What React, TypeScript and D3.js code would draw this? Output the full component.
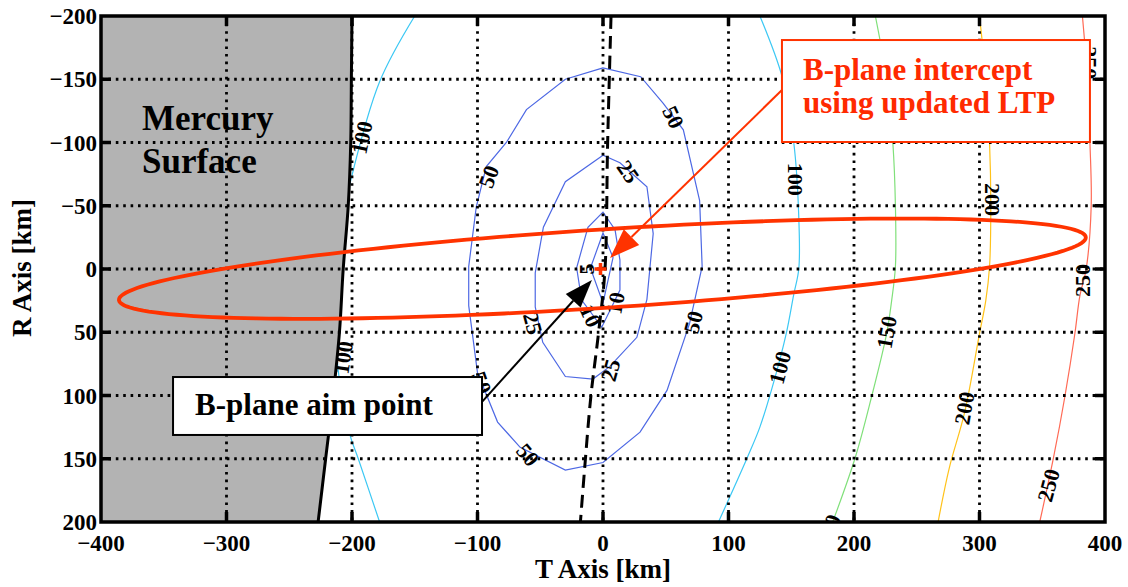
import React from "react";
import * as d3 from "d3";

// ---- axis data ----
const xTickValues = [-400, -300, -200, -100, 0, 100, 200, 300, 400];
const yTickValues = [-200, -150, -100, -50, 0, 50, 100, 150, 200];
const xGrid = [-300, -200, -100, 0, 100, 200, 300];
const yGrid = [-150, -100, -50, 0, 50, 100, 150];

// ---- contour data (T km, R km) ----
const contour5: [number, number][] = [[0, -28.5], [-10, -0.8], [0, 27], [8, -9]];
const contour10: [number, number][] = [[0, -45], [-12, -33], [-21, -1], [-17, 24.5], [-1, 46], [13.5, 16.6], [13.5, -7], [9.6, -31]];
const contour25: [number, number][] = [[0, -90], [-30, -69], [-47.5, -33], [-54, 3], [-54, 30], [-48, 58], [-30, 85], [-8, 87], [5.5, 77], [27, 54], [35, 24], [40, -28], [35, -65], [13.5, -84]];
const contour50: [number, number][] = [[0, -159], [-30, -150], [-61, -126], [-77, -100], [-93, -81], [-101, -49], [-107, -2], [-107, 29], [-100, 82], [-84, 121], [-66, 141], [-30, 159], [0, 153], [29.5, 129], [51, 96], [69, 43], [79, -2], [77, -54], [64, -110], [48, -131], [30, -152]];
const contour100Left: [number, number][] = [[-150, -200], [-178, -148], [-201, -70], [-211, -20], [-213, 30], [-211, 80], [-202, 130], [-195, 150], [-178, 200]];
const contour100Right: [number, number][] = [[125, -200], [143, -151], [152, -100], [156, -41], [156, 0], [152, 20], [146, 51], [135, 93], [125, 125], [115, 149], [92, 200]];
const contour150: [number, number][] = [[217, -200], [226, -150], [231, -99], [233, -50], [233, -2], [230, 25], [226, 51], [214, 101], [201, 149], [183, 200]];
const contour200: [number, number][] = [[300, -200], [305, -150], [308, -100], [309, -50], [308, -2], [305, 25], [300, 51], [288, 114], [276, 157], [267, 200]];
const contour250: [number, number][] = [[382, -200], [386, -150], [388, -100], [389, -50], [385, 0], [380, 21], [376, 51], [368, 101], [359, 149], [348, 200]];

const contourLabels = [
  { text: "100", T: -192, R: -104, rot: -78 },
  { text: "50", T: -91, R: -73, rot: -70 },
  { text: "50", T: 56, R: -120, rot: 65 },
  { text: "25", T: 20, R: -77, rot: 55 },
  { text: "5", T: -13, R: 0, rot: -90 },
  { text: "10", T: 10, R: 27, rot: -80 },
  { text: "10", T: -10, R: 37, rot: 65 },
  { text: "25", T: -56, R: 43, rot: 75 },
  { text: "25", T: 6, R: 80, rot: -75 },
  { text: "50", T: 72, R: 42, rot: -75 },
  { text: "50", T: -60, R: 147, rot: 50 },
  { text: "50", T: -97, R: 90, rot: 70 },
  { text: "100", T: 153, R: -71, rot: 90 },
  { text: "100", T: 141, R: 78, rot: -75 },
  { text: "150", T: 226, R: 50, rot: -80 },
  { text: "150", T: 180, R: 207, rot: -70 },
  { text: "200", T: 310, R: -55, rot: 90 },
  { text: "200", T: 288, R: 110, rot: -80 },
  { text: "250", T: 382, R: 9, rot: -90 },
  { text: "250", T: 355, R: 171, rot: -75 },
  { text: "250", T: 388, R: -163, rot: 90 },
  { text: "100", T: -207, R: 70, rot: -82 },
];

// Mercury surface boundary
const surfaceR = [-200, -150, -100, -50, 0, 50, 100, 150, 200];
const surfaceT = [-200, -200.5, -201, -203, -207, -210, -215, -221, -227];

// dashed trajectory line
const dashR = [-200, -100, 0, 50, 100, 150, 200];
const dashT = [6.4, 3.7, 1.6, -3.5, -9.6, -14, -18];

// error ellipse (center T, R; semi-axes km; tilt)
const ellipseCenter = [-0.5, -0.25];
const ellipseSemiMajor = 386;
const ellipseSemiMinor = 31;
const ellipseTilt = -0.0643; // radians
const aimPoint = [-2, 0];

// annotations (data coords)
const redBox = { T0: 142.6, R0: -181, T1: 388, R1: -100.4 };
const blackBox = { T0: -342.6, R0: 85.4, T1: -96.4, R1: 131.2 };
const redArrow = { from: [142.6, -141.5], to: [5.6, -8.7] };
const blackArrow = { from: [-96.4, 105], to: [-8.8, 8.7] };

const FONT = "'Liberation Serif', 'Times New Roman', serif";
const fmt = (v: number) => (v < 0 ? "\u2212" + Math.abs(v) : String(v));

export default function App() {
  const x = d3.scaleLinear().domain([-400, 400]).range([101, 1105]);
  const y = d3.scaleLinear().domain([-200, 200]).range([16, 522]);
  const [x0, x1] = x.range();
  const [y0, y1] = y.range();

  const closedLin = d3.line<[number, number]>().x(d => x(d[0])).y(d => y(d[1])).curve(d3.curveLinearClosed);
  const smooth = d3.line<[number, number]>().x(d => x(d[0])).y(d => y(d[1])).curve(d3.curveCatmullRom);

  const surfacePts: [number, number][] = surfaceR.map((r, i) => [surfaceT[i], r]);
  const surfacePoly = d3.line<[number, number]>().x(d => x(d[0])).y(d => y(d[1]))([
    [-400, -200], ...surfacePts, [-400, 200],
  ] as [number, number][]);
  const surfaceLine = smooth(surfacePts);

  const dashPts: [number, number][] = dashR.map((r, i) => [dashT[i], r]);

  const ellPts: [number, number][] = d3.range(0, 361, 2).map(deg => {
    const t = (deg * Math.PI) / 180;
    const c = Math.cos(ellipseTilt), s = Math.sin(ellipseTilt);
    const a = ellipseSemiMajor * Math.cos(t), b = ellipseSemiMinor * Math.sin(t);
    return [ellipseCenter[0] + a * c - b * s, ellipseCenter[1] + a * s + b * c];
  });
  const ellPath = closedLin(ellPts);

  const arrow = (from: number[], to: number[], color: string, w: number, L: number, hw: number) => {
    const fx = x(from[0]), fy = y(from[1]), tx = x(to[0]), ty = y(to[1]);
    const dx = tx - fx, dy = ty - fy;
    const len = Math.hypot(dx, dy);
    const ux = dx / len, uy = dy / len;
    const bx = tx - ux * L, by = ty - uy * L;
    const pts = [
      [tx, ty],
      [bx - uy * hw, by + ux * hw],
      [bx + uy * hw, by - ux * hw],
    ];
    return (
      <g>
        <line x1={fx} y1={fy} x2={bx} y2={by} stroke={color} strokeWidth={w} />
        <polygon points={pts.map(p => p.join(",")).join(" ")} fill={color} />
      </g>
    );
  };

  const blue = "#4d68e4";
  return (
    <svg width={1128} height={587} style={{ position: "absolute", left: 0, top: 0, background: "#fff" }} fontFamily={FONT}>
      <defs>
        <clipPath id="plot">
          <rect x={x0} y={y0} width={x1 - x0} height={y1 - y0} />
        </clipPath>
      </defs>
      <rect x={0} y={0} width={1128} height={587} fill="#fff" />
      <g clipPath="url(#plot)">
        {/* contours */}
        <path d={closedLin(contour5) || ""} fill="none" stroke={blue} strokeWidth={1.2} />
        <path d={closedLin(contour10) || ""} fill="none" stroke={blue} strokeWidth={1.2} />
        <path d={closedLin(contour25) || ""} fill="none" stroke={blue} strokeWidth={1.2} />
        <path d={closedLin(contour50) || ""} fill="none" stroke={blue} strokeWidth={1.2} />
        <path d={smooth(contour100Left) || ""} fill="none" stroke="#3cc8f4" strokeWidth={1.2} />
        <path d={smooth(contour100Right) || ""} fill="none" stroke="#3cc8f4" strokeWidth={1.2} />
        <path d={smooth(contour150) || ""} fill="none" stroke="#80e07a" strokeWidth={1.2} />
        <path d={smooth(contour200) || ""} fill="none" stroke="#ffc21a" strokeWidth={1.2} />
        <path d={smooth(contour250) || ""} fill="none" stroke="#ff6a55" strokeWidth={1.2} />
        {contourLabels.map((l, i) => (
          <text key={i} x={x(l.T)} y={y(l.R)} transform={`rotate(${l.rot} ${x(l.T)} ${y(l.R)})`}
            textAnchor="middle" dominantBaseline="central" fontSize={22} fontWeight="bold" fill="#000">
            {l.text}
          </text>
        ))}
        {/* Mercury surface */}
        <path d={surfacePoly || ""} fill="#b3b3b3" stroke="none" />
        <path d={surfaceLine || ""} fill="none" stroke="#000" strokeWidth={3} />
        {/* grid */}
        {xGrid.map(v => (
          <line key={"gx" + v} x1={x(v)} x2={x(v)} y1={y0} y2={y1} stroke="#000" strokeWidth={2.8} strokeDasharray="2.6 5" />
        ))}
        {yGrid.map(v => (
          <line key={"gy" + v} x1={x0} x2={x1} y1={y(v)} y2={y(v)} stroke="#000" strokeWidth={2.8} strokeDasharray="2.6 4.8" />
        ))}
        {/* dashed trajectory */}
        <path d={smooth(dashPts) || ""} fill="none" stroke="#000" strokeWidth={3} strokeDasharray="13 7" />
        {/* error ellipse */}
        <path d={ellPath || ""} fill="none" stroke="#ff3300" strokeWidth={3.8} />
        {/* aim point marker */}
        <line x1={x(aimPoint[0]) - 6} x2={x(aimPoint[0]) + 6} y1={y(aimPoint[1])} y2={y(aimPoint[1])} stroke="#ff3300" strokeWidth={3.5} />
        <line x1={x(aimPoint[0])} x2={x(aimPoint[0])} y1={y(aimPoint[1]) - 6} y2={y(aimPoint[1]) + 6} stroke="#ff3300" strokeWidth={3.5} />
        {/* Mercury label */}
        <text x={142} y={130} fontSize={35} fontWeight="bold">Mercury</text>
        <text x={142} y={173} fontSize={35} fontWeight="bold">Surface</text>
      </g>

      {/* annotations */}
      {arrow(redArrow.from, redArrow.to, "#ff3300", 2, 30, 11)}
      {arrow(blackArrow.from, blackArrow.to, "#000", 2, 28, 10)}
      <rect x={x(redBox.T0)} y={y(redBox.R0)} width={x(redBox.T1) - x(redBox.T0)} height={y(redBox.R1) - y(redBox.R0)}
        fill="#fff" stroke="#ff3300" strokeWidth={2} />
      <text x={x(redBox.T0) + 21} y={y(redBox.R0) + 40} fontSize={31} fontWeight="bold" fill="#ff2a00">B-plane intercept</text>
      <text x={x(redBox.T0) + 21} y={y(redBox.R0) + 73} fontSize={31} fontWeight="bold" fill="#ff2a00">using updated LTP</text>
      <rect x={x(blackBox.T0)} y={y(blackBox.R0)} width={x(blackBox.T1) - x(blackBox.T0)} height={y(blackBox.R1) - y(blackBox.R0)}
        fill="#fff" stroke="#000" strokeWidth={2} />
      <text x={x(blackBox.T0) + 22} y={y(blackBox.R0) + 38} fontSize={31} fontWeight="bold" fill="#000">B-plane aim point</text>

      {/* axes frame and ticks */}
      {xGrid.map(v => (
        <g key={"tx" + v}>
          <line x1={x(v)} x2={x(v)} y1={y1} y2={y1 - 10} stroke="#000" strokeWidth={3.5} />
          <line x1={x(v)} x2={x(v)} y1={y0} y2={y0 + 10} stroke="#000" strokeWidth={3.5} />
        </g>
      ))}
      {yGrid.map(v => (
        <g key={"ty" + v}>
          <line x1={x0} x2={x0 + 10} y1={y(v)} y2={y(v)} stroke="#000" strokeWidth={3.5} />
          <line x1={x1} x2={x1 - 10} y1={y(v)} y2={y(v)} stroke="#000" strokeWidth={3.5} />
        </g>
      ))}
      <rect x={x0} y={y0} width={x1 - x0} height={y1 - y0} fill="none" stroke="#000" strokeWidth={3.5} />

      {xTickValues.map(v => (
        <text key={"lx" + v} x={x(v)} y={551} textAnchor="middle" fontSize={23} fontWeight="bold">{fmt(v)}</text>
      ))}
      {yTickValues.map(v => (
        <text key={"ly" + v} x={97} y={y(v) + 8} textAnchor="end" fontSize={23} fontWeight="bold">{fmt(v)}</text>
      ))}
      <text x={603} y={578} textAnchor="middle" fontSize={27} fontWeight="bold">T Axis [km]</text>
      <text transform={`translate(31 268) rotate(-90)`} textAnchor="middle" fontSize={27} fontWeight="bold">R Axis [km]</text>
    </svg>
  );
}
